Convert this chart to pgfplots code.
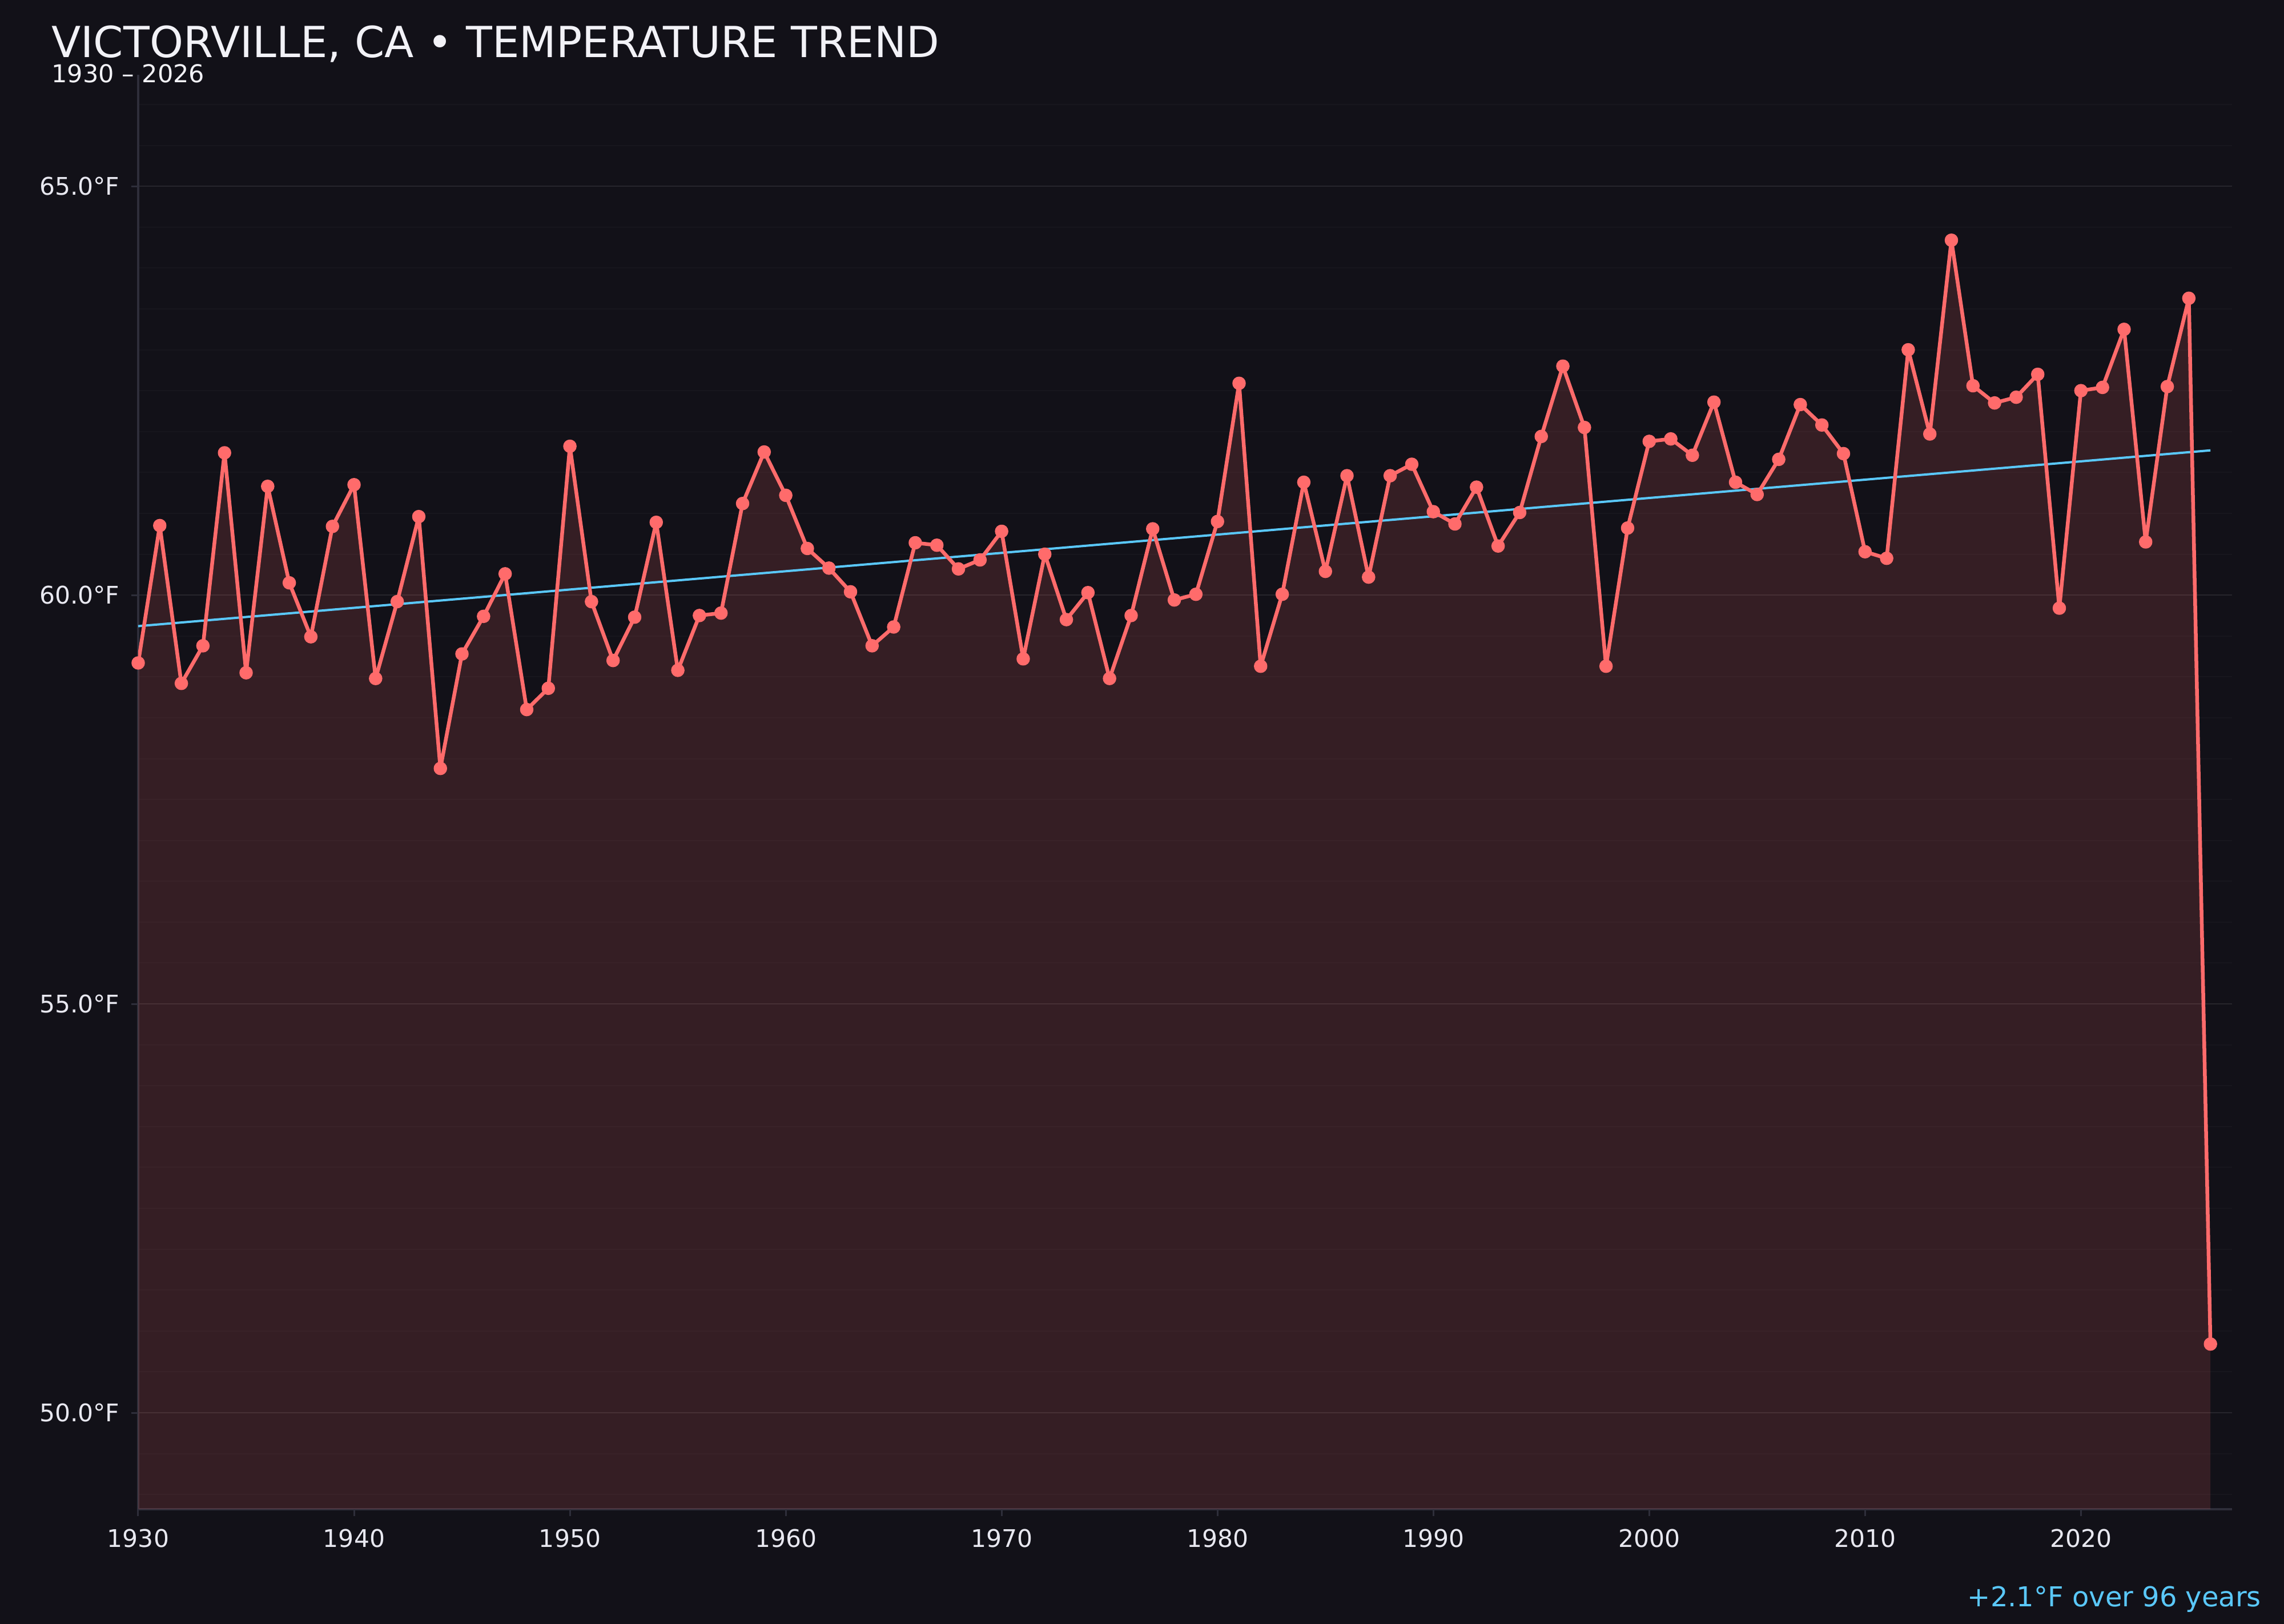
\documentclass[border=0pt]{standalone}
\usepackage{pgfplots}
\usepackage{pgfplotstable}
\usepackage{fontspec}
\pgfplotsset{compat=1.18}
\setmainfont{DejaVu Sans}

\definecolor{bg}{HTML}{121118}
\definecolor{linec}{HTML}{FF6B6B}
\definecolor{trendc}{HTML}{5AC8FA}
\definecolor{spinec}{HTML}{2E2E3A}
\definecolor{txtc}{HTML}{E8E8F0}
\definecolor{titlec}{HTML}{F2F2F7}

% annual mean temperature, deg F
\pgfplotstableread{
year temp
1930 59.17
1931 60.85
1932 58.92
1933 59.38
1934 61.74
1935 59.05
1936 61.33
1937 60.15
1938 59.49
1939 60.84
1940 61.35
1941 58.98
1942 59.92
1943 60.96
1944 57.88
1945 59.28
1946 59.74
1947 60.26
1948 58.60
1949 58.86
1950 61.82
1951 59.92
1952 59.20
1953 59.73
1954 60.89
1955 59.08
1956 59.75
1957 59.78
1958 61.12
1959 61.75
1960 61.22
1961 60.57
1962 60.33
1963 60.04
1964 59.38
1965 59.61
1966 60.64
1967 60.61
1968 60.32
1969 60.43
1970 60.78
1971 59.22
1972 60.50
1973 59.70
1974 60.03
1975 58.98
1976 59.75
1977 60.81
1978 59.94
1979 60.01
1980 60.90
1981 62.59
1982 59.13
1983 60.01
1984 61.38
1985 60.29
1986 61.46
1987 60.22
1988 61.46
1989 61.60
1990 61.02
1991 60.87
1992 61.32
1993 60.60
1994 61.01
1995 61.94
1996 62.80
1997 62.05
1998 59.13
1999 60.82
2000 61.88
2001 61.91
2002 61.71
2003 62.36
2004 61.38
2005 61.23
2006 61.66
2007 62.33
2008 62.08
2009 61.73
2010 60.53
2011 60.45
2012 63.00
2013 61.97
2014 64.34
2015 62.56
2016 62.35
2017 62.42
2018 62.70
2019 59.84
2020 62.50
2021 62.54
2022 63.25
2023 60.65
2024 62.55
2025 63.63
2026 50.84
}\temps

\begin{document}
\begin{tikzpicture}
\fill[bg] (0,0) rectangle (800pt,568.8pt);

\begin{axis}[
   at={(48.4pt,40.2pt)}, anchor=south west,
   scale only axis,
   width=733.4pt, height=502.3pt,
   xmin=1930, xmax=2027,
   ymin=48.82, ymax=66.36,
   axis x line*=bottom,
   axis y line*=left,
   axis line style={draw=spinec, line width=0.7pt},
   xtick={1930,1940,...,2020},
   ytick={50,55,60,65},
   minor ytick={49,49.5,...,66},
   tick align=outside,
   major tick length=2.5pt,
   minor tick length=0pt,
   tick style={draw=spinec, line width=0.6pt},
   ymajorgrids, yminorgrids,
   major grid style={draw=white, opacity=0.07, line width=0.5pt},
   minor grid style={draw=white, opacity=0.025, line width=0.4pt},
   tick label style={font=\fontsize{8.5}{10}\selectfont, text=txtc},
   /pgf/number format/assume math mode=true,
   /pgf/number format/1000 sep={},
   yticklabel={\pgfmathprintnumber[fixed,fixed zerofill,precision=1]{\tick}°F},
   xticklabel style={yshift=-1pt},
   yticklabel style={xshift=-0.5pt},
]
\addplot[draw=none, fill=linec, fill opacity=0.15] table[x=year, y=temp] {\temps} \closedcycle;
\addplot[trendc, line width=0.8pt] coordinates {(1930,59.62) (2026,61.77)};
\addplot[linec, line width=1.3pt, line join=round, line cap=round,
   mark=*, mark size=1.7pt,
   mark options={fill=linec, draw=none}] table[x=year, y=temp] {\temps};
\end{axis}

\node[anchor=base west, inner sep=0, text=titlec, font=\fontsize{15}{18}\selectfont]
   at (17.9pt,548.6pt) {VICTORVILLE, CA • TEMPERATURE TREND};
\node[anchor=base west, inner sep=0, text=titlec, font=\fontsize{8.6}{10}\selectfont]
   at (17.9pt,539.8pt) {1930 – 2026};
\node[anchor=base east, inner sep=0, text=trendc, font=\fontsize{9.6}{11}\selectfont]
   at (792.2pt,6pt) {+2.1°F over 96 years};
\end{tikzpicture}
\end{document}
